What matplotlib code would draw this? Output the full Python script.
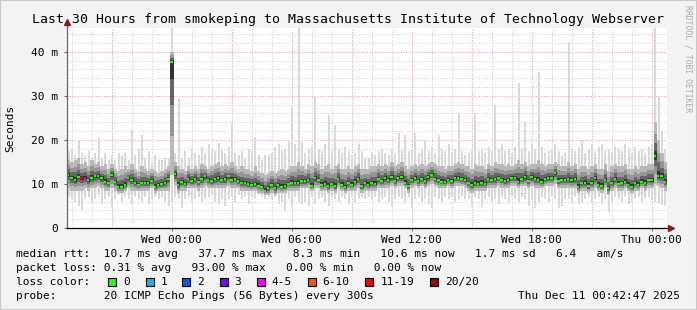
import matplotlib
matplotlib.use("Agg")
import matplotlib.pyplot as plt
import matplotlib.dates as mdates
from matplotlib.patches import Rectangle
from matplotlib.lines import Line2D
import numpy as np
from datetime import datetime, timedelta

# ---------------- data (ms), one value per 10-minute step ----------------
start_time = datetime(2025, 12, 9, 18, 46)
step_minutes = 10

median_ms = [
    12.0, 11.3, 10.9, 11.5, 11.3, 11.2, 10.9, 11.3, 11.7, 11.8,
    11.3, 10.5, 10.2, 12.0, 10.5, 9.4, 9.4, 9.8, 11.3, 10.9,
    10.3, 9.8, 10.2, 10.3, 10.2, 10.7, 9.4, 9.8, 9.9, 10.3,
    11.1, 37.7, 12.2, 9.8, 10.5, 10.0, 11.1, 10.7, 11.1, 10.5,
    11.1, 11.7, 10.9, 10.7, 11.1, 11.3, 10.9, 11.1, 11.7, 10.9,
    11.2, 10.7, 10.2, 10.2, 9.9, 9.8, 9.9, 9.6, 9.2, 8.5,
    9.0, 9.8, 9.0, 9.8, 9.4, 9.5, 10.0, 10.3, 10.2, 10.3,
    10.7, 10.7, 10.9, 9.6, 11.3, 10.9, 9.8, 10.0, 9.5, 10.0,
    9.5, 11.1, 9.8, 9.2, 10.2, 9.8, 10.5, 11.1, 9.5, 10.2,
    9.8, 10.15, 10.0, 11.1, 10.7, 11.3, 10.9, 11.5, 10.7, 11.3,
    11.5, 10.3, 9.5, 10.9, 11.3, 10.7, 11.1, 10.7, 11.5, 12.0,
    11.1, 10.9, 10.5, 10.5, 10.9, 10.7, 11.3, 11.3, 11.1, 10.9,
    10.2, 9.8, 10.3, 10.0, 10.3, 10.0, 11.1, 10.9, 11.1, 11.3,
    10.9, 10.7, 10.9, 11.3, 11.3, 10.5, 11.1, 11.5, 10.7, 11.5,
    11.1, 10.9, 10.5, 11.1, 11.3, 11.3, 12.4, 10.7, 10.9, 10.9,
    11.1, 10.8, 11.1, 9.4, 10.15, 10.3, 9.55, 10.15, 11.3, 9.8,
    9.55, 10.9, 9.0, 10.15, 11.1, 10.0, 10.15, 10.5, 9.8, 9.4,
    10.15, 9.8, 10.5, 10.3, 10.9, 10.8, 16.4, 11.8, 11.7, 10.5,
]

smoke_min = [
    7, 6.5, 6, 5, 4, 6.5, 7, 6, 6.5, 7.5, 5.5, 6.5, 7, 5, 6.5, 7.5, 6, 7, 6.5, 5.5,
    7, 6.5, 6, 7, 5.5, 6.5, 7, 6.5, 7, 6,
    5, 6, 7, 6.5, 4.5, 6.5, 7, 6, 6.5, 7, 6, 6.5, 7, 7.5, 6, 5.5, 6.5, 5, 6.5, 7,
    6, 7.5, 6.5, 7, 5.5, 7, 6.5, 7.5, 7, 6.5,
    7, 6.5, 7, 5.5, 6, 3.8, 6.5, 5, 7, 6, 5.5, 6, 5, 7, 5.5, 6.5, 7, 6, 5, 7,
    6.5, 6, 7, 6.5, 5.5, 7, 6, 6.5, 7, 6.5,
    7, 6.5, 7, 6, 6.5, 7, 6, 5, 6.5, 7, 6.5, 6, 7, 4.8, 6.5, 7, 6, 6.5, 5.5, 4.5,
    7, 6.5, 6, 7, 6.5, 7, 6, 6.5, 7, 6.5,
    6.5, 5, 7, 6.5, 4.8, 6.5, 7, 6, 6.5, 5.5, 7, 6.5, 6, 7, 6.5, 6, 7, 6.5, 5, 6.5,
    4.5, 6, 7, 6.5, 6, 7, 6.5, 4.5, 5, 6.5,
    6.5, 6, 7, 5.5, 6, 6.5, 7, 6, 6.5, 7, 5.5, 6.5, 3.7, 6, 7, 6.5, 6, 7, 5.5, 6,
    6.5, 7, 6, 6.5, 7, 6.5, 6, 5.5, 5.2, 5,
]

smoke_lo = [
    9, 8.5, 8.5, 8.5, 8.5, 9, 8.5, 9, 9, 9.5, 9, 8.5, 8.5, 9, 8.5, 8, 8, 8.5, 9, 8.5,
    8.5, 8.5, 8.5, 8.5, 8.5, 9, 8, 8.5, 8.5, 8.5,
    8.5, 12, 9.5, 8, 8.5, 8.5, 9, 9, 9, 8.5, 9, 9.5, 9, 9, 9, 9, 9, 9, 9.5, 9,
    9, 9, 8.5, 8.5, 8.5, 8.5, 8.5, 8, 8, 7.5,
    7.5, 8, 7.5, 8, 8, 8, 8.5, 8.5, 8.5, 8.5, 9, 9, 9, 8.5, 9, 9, 8.5, 8.5, 8, 8.5,
    8, 9, 8.5, 8, 8.5, 8.5, 8.5, 9, 8, 8.5,
    8.5, 8.5, 8.5, 9, 9, 9, 9, 9.5, 9, 9.5, 9.5, 9, 8, 9, 9.5, 9, 9.5, 9, 9.5, 10,
    9.5, 9, 9, 9, 9.5, 9, 9.5, 9.5, 9.5, 9,
    8.5, 8, 8.5, 8.5, 8.5, 8.5, 9, 9, 9, 9.5, 9, 9, 9, 9.5, 9.5, 9, 9.5, 9.5, 9, 9.5,
    9, 9, 9, 9.5, 9.5, 9.5, 10, 9, 9, 9,
    9, 9, 9, 8, 8.5, 8.5, 8, 8.5, 9, 8.5, 8, 9, 7.5, 8.5, 9, 8.5, 8.5, 9, 8.5, 8,
    8.5, 8.5, 9, 8.5, 9, 9, 10, 9.5, 9, 8.5,
]

smoke_hi = [
    15.5, 15, 15.5, 16, 14.5, 15, 14, 15.5, 14.5, 15, 14, 14.5, 13.5, 14.5, 13.5, 13, 13.5, 14, 13.5, 14.5,
    13.5, 13, 14, 13.5, 13, 13.5, 13, 12.5, 13, 13.5,
    14, 40, 15, 14, 13.5, 13, 14, 13.5, 14, 13.5, 14.5, 14, 13.5, 14, 14.5, 15, 14, 14.5, 14, 15,
    14, 13.5, 14, 13.5, 13.5, 13, 14, 13, 12.5, 12,
    12.5, 13, 12.5, 13, 13.5, 13, 13.5, 14, 14, 15, 14, 13.5, 14.5, 14, 15, 14.5, 13.5, 14, 14.5, 13.5,
    14, 14.5, 13.5, 13.5, 14, 13.5, 14, 14.5, 13.5, 13.5,
    13.5, 14, 14, 14.5, 14, 14.5, 14, 15, 14, 14.5, 15, 14, 13.5, 14, 14.5, 14, 14.5, 14, 14.5, 15,
    14.5, 14, 14, 13.5, 14, 14, 14.5, 15, 14.5, 14,
    14, 13.5, 14.5, 14, 14, 13.5, 14.5, 14, 15, 14.5, 14.5, 14, 14.5, 14, 14.5, 15.5, 14.5, 15, 14, 14.5,
    14.5, 15.5, 14.5, 14, 14.5, 14.5, 15, 14.5, 14, 14,
    15, 14, 14.5, 13.5, 14, 14, 13.5, 14, 14.5, 13.5, 13.5, 14.5, 13, 14, 14.5, 14, 14, 14.5, 13.5, 13.5,
    14, 13.5, 14, 14, 14.5, 14.5, 24, 20, 17, 15,
]

smoke_max = [
    17.5, 18, 16.5, 20, 17, 16.5, 17.5, 16, 17, 20.5, 16, 17, 15.5, 16.5, 15.5, 17, 16.5, 17, 15.5, 22.3,
    16.5, 18, 21, 16, 17.5, 15, 16.5, 15.5, 15.5, 16,
    16, 46, 17, 29.5, 16, 17.5, 16, 18, 17, 16.5, 18.5, 17, 19, 18, 17.5, 19.3, 18, 17, 18.5, 24,
    17, 16.5, 17.5, 16, 18, 17.5, 20.7, 16.5, 15.5, 16.5,
    16.5, 17, 18.5, 19, 17.5, 18, 20, 27.5, 19, 46, 19.5, 17, 18, 18.5, 30, 18, 17.5, 19, 25.7, 17.5,
    23.4, 18, 17, 18.5, 17.5, 16.5, 17, 19, 17.5, 16,
    16, 17, 16.5, 17.5, 18, 17, 16.5, 18, 17, 21.6, 18, 21, 17.5, 18, 21.6, 17, 18, 20, 17.5, 18.5,
    17, 21, 18, 17.5, 19, 17, 18, 26, 17.5, 16.5,
    17, 18, 26, 17.5, 18, 17, 18.5, 17.5, 28, 18, 19, 17.5, 18, 17, 18.5, 33, 18, 24, 17.5, 19,
    18, 35.5, 18.5, 17, 17.5, 18, 19, 17.5, 16.5, 17,
    42.3, 18, 17.5, 18.5, 20, 17, 18, 19, 17.5, 18.5, 19, 17.5, 18, 17, 18.5, 18, 17.5, 19, 18, 17,
    18.5, 17.5, 18, 17, 18.5, 19, 46, 30, 22, 18,
]

# lost pings out of 20 per step (all zero except the two visible colored marks)
lost_pings = [0] * 180
lost_pings[4] = 15
lost_pings[5] = 4

loss_labels = ["0", "1", "2", "3", "4-5", "6-10", "11-19", "20/20"]
loss_colors = ["#26ff00", "#00b8ff", "#0059ff", "#7e00ff", "#ff00ff", "#ff5500", "#ff0000", "#a10000"]

y_ticks_ms = [0, 10, 20, 30, 40]
y_tick_labels = ["0", "10 m", "20 m", "30 m", "40 m"]
x_tick_times = [datetime(2025, 12, 10, 0), datetime(2025, 12, 10, 6), datetime(2025, 12, 10, 12),
                datetime(2025, 12, 10, 18), datetime(2025, 12, 11, 0)]
x_tick_labels = ["Wed 00:00", "Wed 06:00", "Wed 12:00", "Wed 18:00", "Thu 00:00"]

title = "Last 30 Hours from smokeping to Massachusetts Institute of Technology Webserver"
legend_rtt = "median rtt:  10.7 ms avg   37.7 ms max   8.3 ms min   10.6 ms now   1.7 ms sd   6.4   am/s"
legend_loss = "packet loss: 0.31 % avg   93.00 % max   0.00 % min   0.00 % now"
legend_probe = "probe:       20 ICMP Echo Pings (56 Bytes) every 300s"
stamp = "Thu Dec 11 00:42:47 2025"

# ---------------- figure ----------------
W, H = 697, 310
MONO = "DejaVu Sans Mono"
plt.rcParams['font.family'] = [MONO]

fig = plt.figure(figsize=(W / 100, H / 100), dpi=100, facecolor="#f3f3f3")

def fx(x):
    return x / W

def fy(y):
    return 1 - y / H

L, R, T, B = 67, 667, 28, 228
ax = fig.add_axes([fx(L), fy(B), (R - L) / W, (B - T) / H])
ax.set_facecolor("white")

n = len(median_ms)
xs = mdates.date2num([start_time + timedelta(minutes=step_minutes * i) for i in range(n)])
w = step_minutes / 1440.0
x0 = mdates.date2num(start_time)
x1 = x0 + 30 / 24.0
ymax = 45.4
ax.set_xlim(x0, x1)
ax.set_ylim(0, ymax)

# grid
hour0 = datetime(2025, 12, 9, 19)
for h in range(0, 30):
    t = hour0 + timedelta(hours=h)
    xv = mdates.date2num(t)
    if xv > x1:
        break
    major = (t.hour % 3 == 0)
    ax.axvline(xv, color="#e4a3a3" if major else "#cfcfcf", lw=0.75,
               ls=(0, (1, 1.5)), zorder=1)
for v in np.arange(2, 45, 2):
    major = (v % 10 == 0)
    ax.axhline(v, color="#e4a3a3" if major else "#cfcfcf", lw=0.75,
               ls=(0, (1, 1.5)), zorder=1)

med = np.array(median_ms)
mn = np.array(smoke_min, dtype=float)
lo = np.array(smoke_lo, dtype=float)
hi = np.array(smoke_hi, dtype=float)
mx = np.array(smoke_max, dtype=float)

# outer (lightest) smoke: thin streaks like the 5-minute pings
ax.bar(xs + w * 0.5, mx - mn, bottom=mn, width=w * 0.55, align="center", color="#d9d9d9",
       lw=0, zorder=2, antialiased=False)
ax.bar(xs, hi - lo, bottom=lo, width=w, align="edge", color="#b8b8b8", lw=0, zorder=3, antialiased=False)
for f, c in [(0.65, "#959595"), (0.38, "#666666"), (0.15, "#333333")]:
    b = med - (med - lo) * f
    t = med + (hi - med) * f
    ax.bar(xs, t - b, bottom=b, width=w, align="edge", color=c, lw=0, zorder=4, antialiased=False)

def loss_color(k):
    if k == 0:
        return loss_colors[0]
    if k <= 3:
        return loss_colors[k]
    if k <= 5:
        return loss_colors[4]
    if k <= 10:
        return loss_colors[5]
    if k <= 19:
        return loss_colors[6]
    return loss_colors[7]

ax.hlines(med, xs, xs + w * 0.75, colors=[loss_color(k) for k in lost_pings], lw=1.6, zorder=6)

# axes styling
for s in ["top", "right", "left", "bottom"]:
    ax.spines[s].set_visible(False)
ax.add_line(Line2D([0, 0], [0, 1.03], transform=ax.transAxes, color="#666666", lw=0.9, clip_on=False, zorder=7))
ax.add_line(Line2D([0, 1.0], [0, 0], transform=ax.transAxes, color="#000000", lw=0.9, clip_on=False, zorder=7))
ax.plot([0], [1.03], marker="^", ms=4, color="#8b1a1a", transform=ax.transAxes, clip_on=False, zorder=8)
ax.plot([1.006], [0], marker=">", ms=4, color="#8b1a1a", transform=ax.transAxes, clip_on=False, zorder=8)

ax.set_yticks(y_ticks_ms)
ax.set_yticklabels(y_tick_labels)
ax.set_xticks(mdates.date2num(x_tick_times))
ax.set_xticklabels(x_tick_labels)
ax.tick_params(axis="y", length=2.5, width=0.8, pad=4, labelsize=8, color="#666666")
ax.tick_params(axis="x", length=2, width=0.8, pad=3, labelsize=8, color="#666666")

# texts
fig.text(fx(348), fy(19), title, ha="center", va="center", fontsize=9.5, family=MONO)
fig.text(fx(10), fy(128), "Seconds", rotation=90, ha="center", va="center", fontsize=8, family=MONO)
fig.text(fx(688), fy(5), "RRDTOOL / TOBI OETIKER", rotation=270, ha="center", va="top",
         fontsize=5.8, family=MONO, color="#a8a8a8")

fig.text(fx(16), fy(254), legend_rtt, ha="left", va="center", fontsize=8, family=MONO)
fig.text(fx(16), fy(268), legend_loss, ha="left", va="center", fontsize=8, family=MONO)
fig.text(fx(16), fy(282), "loss color:", ha="left", va="center", fontsize=8, family=MONO)
box_x = [108.4, 145.8, 182.2, 219.6, 256.9, 307.6, 365.3, 430.2]
for bx, lab, col in zip(box_x, loss_labels, loss_colors):
    fig.patches.append(Rectangle((fx(bx), fy(286)), 8 / W, 8 / H, transform=fig.transFigure,
                                 facecolor=col, edgecolor="black", lw=0.8))
    fig.text(fx(bx + 15), fy(282), lab, ha="left", va="center", fontsize=8, family=MONO)
fig.text(fx(16), fy(296), legend_probe, ha="left", va="center", fontsize=8, family=MONO)
fig.text(fx(680), fy(296), stamp, ha="right", va="center", fontsize=8, family=MONO)

# frame
fig.patches.append(Rectangle((0, 0), 1, 1, transform=fig.transFigure, fill=False,
                             edgecolor="#c8c8c8", lw=1.5))

fig.savefig("out.png", dpi=100, facecolor=fig.get_facecolor())
